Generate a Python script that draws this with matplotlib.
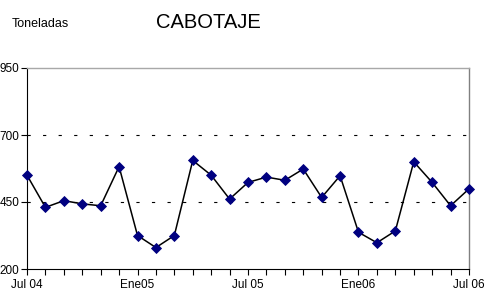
import matplotlib
matplotlib.use("Agg")
import matplotlib.pyplot as plt

months = ["Jul 04", "Ago", "Sep", "Oct", "Nov", "Dic", "Ene05", "Feb", "Mar", "Abr", "May", "Jun",
          "Jul 05", "Ago", "Sep", "Oct", "Nov", "Dic", "Ene06", "Feb", "Mar", "Abr", "May", "Jun", "Jul 06"]
values = [550, 430, 455, 443, 436, 582, 325, 280, 325, 605, 550, 461,
          523, 543, 531, 573, 467, 548, 337, 298, 342, 600, 523, 436, 499]
yticks = [200, 450, 700, 950]
label_months = ["Jul 04", "Ene05", "Jul 05", "Ene06", "Jul 06"]

plt.rcParams['font.family'] = ['Liberation Sans', 'DejaVu Sans']

fig = plt.figure(figsize=(4.88, 2.92), dpi=100)
ax = fig.add_axes([27/488, 1-269/292, (469-27)/488, (269-68)/292])

x = list(range(len(values)))
ax.plot(x, values, color='black', linewidth=1.1, marker='D', markersize=5.6,
        markerfacecolor='#000080', markeredgecolor='#000080', markeredgewidth=0.6,
        clip_on=False, zorder=3)

for yv in [450, 700]:
    ax.axhline(yv, color='black', linewidth=0.8, linestyle=(0, (2.9, 11.1)), zorder=1)

ax.set_xlim(0, len(values) - 1)
ax.set_ylim(200, 950)
ax.set_yticks(yticks)
ax.set_yticklabels([str(v) for v in yticks])
ax.set_xticks(x)
ax.set_xticklabels([m if (i % 6 == 0) else "" for i, m in enumerate(months)])

ax.tick_params(axis='both', direction='out', length=4, width=0.8, labelsize=8.5, colors='black')
ax.tick_params(axis='y', pad=1.5)
ax.tick_params(axis='x', pad=3)

for s in ['left', 'bottom']:
    ax.spines[s].set_color('black')
    ax.spines[s].set_linewidth(0.8)
ax.spines['top'].set_color('#a8a8a8')
ax.spines['top'].set_linewidth(1.0)
ax.spines['right'].set_color('#808080')
ax.spines['right'].set_linewidth(1.0)

fig.text(12/488, 1-24/292, "Toneladas", fontsize=9, ha='left', va='center')
fig.text(208/488, 1-23/292, "CABOTAJE", fontsize=14.5, ha='center', va='center')

fig.savefig("out.png", dpi=100)
